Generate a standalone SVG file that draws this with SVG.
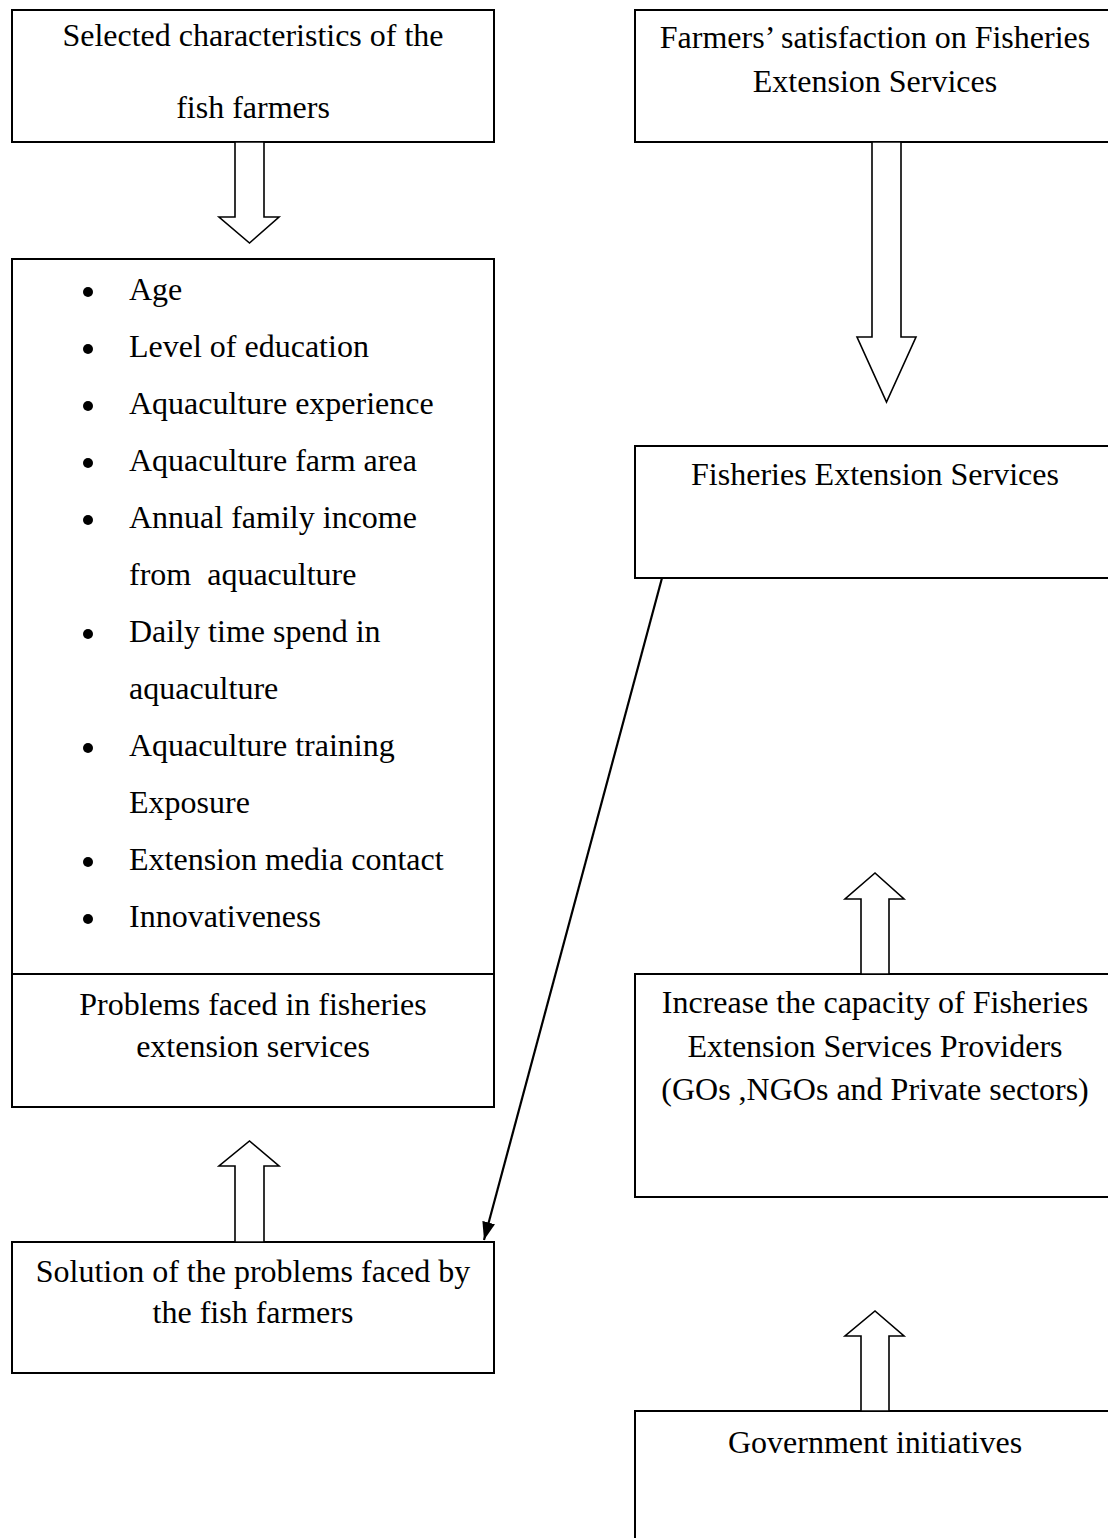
<svg xmlns="http://www.w3.org/2000/svg" width="1108" height="1538" viewBox="0 0 1108 1538">
<style>
.box{fill:#fff;stroke:#000;stroke-width:2}
.blk{fill:#fff;stroke:#000;stroke-width:1.6;stroke-linejoin:miter}
.t{font-family:"Liberation Serif","Times New Roman",serif;font-size:32px;fill:#000}
.c{text-anchor:middle}
.con{stroke:#000;stroke-width:2.2;fill:none}
.dot{fill:#000}
</style>
<defs>
<marker id="ah" viewBox="0 0 18 13" refX="18" refY="6.5" markerWidth="18" markerHeight="13" orient="auto" markerUnits="userSpaceOnUse">
<path d="M0,0 L18,6.5 L0,13 Z" fill="#000"/>
</marker>
</defs>
<rect width="1108" height="1538" fill="#fff"/>

<g id="n-selected">
<rect class="box" x="12" y="10" width="482" height="132"/>
<text class="t c" x="253" y="46">Selected characteristics of the</text>
<text class="t c" x="253" y="118">fish farmers</text>
</g>

<g id="n-characteristics">
<rect class="box" x="12" y="259" width="482" height="715"/>
<g class="t">
<circle class="dot" cx="88" cy="292" r="5"/><text x="129" y="300">Age</text>
<circle class="dot" cx="88" cy="349" r="5"/><text x="129" y="357">Level of education</text>
<circle class="dot" cx="88" cy="406" r="5"/><text x="129" y="414">Aquaculture experience</text>
<circle class="dot" cx="88" cy="463" r="5"/><text x="129" y="471">Aquaculture farm area</text>
<circle class="dot" cx="88" cy="520" r="5"/><text x="129" y="528">Annual family income</text>
<text x="129" y="585" xml:space="preserve">from  aquaculture</text>
<circle class="dot" cx="88" cy="634" r="5"/><text x="129" y="642">Daily time spend in</text>
<text x="129" y="699">aquaculture</text>
<circle class="dot" cx="88" cy="748" r="5"/><text x="129" y="756">Aquaculture training</text>
<text x="129" y="813">Exposure</text>
<circle class="dot" cx="88" cy="862" r="5"/><text x="129" y="870">Extension media contact</text>
<circle class="dot" cx="88" cy="919" r="5"/><text x="129" y="927">Innovativeness</text>
</g>
</g>

<g id="n-problems">
<rect class="box" x="12" y="974" width="482" height="133"/>
<text class="t c" x="253" y="1015">Problems faced in fisheries</text>
<text class="t c" x="253" y="1057">extension services</text>
</g>

<g id="n-solution">
<rect class="box" x="12" y="1242" width="482" height="131"/>
<text class="t c" x="253" y="1282">Solution of the problems faced by</text>
<text class="t c" x="253" y="1323">the fish farmers</text>
</g>

<g id="n-satisfaction">
<rect class="box" x="635" y="10" width="490" height="132"/>
<text class="t c" x="875" y="48">Farmers’ satisfaction on Fisheries</text>
<text class="t c" x="875" y="92">Extension Services</text>
</g>

<g id="n-fes">
<rect class="box" x="635" y="446" width="490" height="132"/>
<text class="t c" x="875" y="485">Fisheries Extension Services</text>
</g>

<g id="n-capacity">
<rect class="box" x="635" y="974" width="490" height="223"/>
<text class="t c" x="875" y="1013">Increase the capacity of Fisheries</text>
<text class="t c" x="875" y="1057">Extension Services Providers</text>
<text class="t c" x="875" y="1100">(GOs ,NGOs and Private sectors)</text>
</g>

<g id="n-government">
<rect class="box" x="635" y="1411" width="490" height="140"/>
<text class="t c" x="875" y="1453">Government initiatives</text>
</g>

<g id="connectors">
<polygon class="blk" points="235,142 264,142 264,217 279,217 249.5,243 219,217 235,217"/>
<polygon class="blk" points="872,142 901,142 901,337 916,337 886.5,402 857,337 872,337"/>
<polygon class="blk" points="235,1242 264,1242 264,1166 279,1166 249.5,1141 219,1166 235,1166"/>
<polygon class="blk" points="861,974 889,974 889,899 904,899 875,873 845,899 861,899"/>
<polygon class="blk" points="861,1411 889,1411 889,1336 904,1336 875,1311 845,1336 861,1336"/>
<line class="con" x1="662" y1="578" x2="484" y2="1240" marker-end="url(#ah)"/>
</g>
</svg>
